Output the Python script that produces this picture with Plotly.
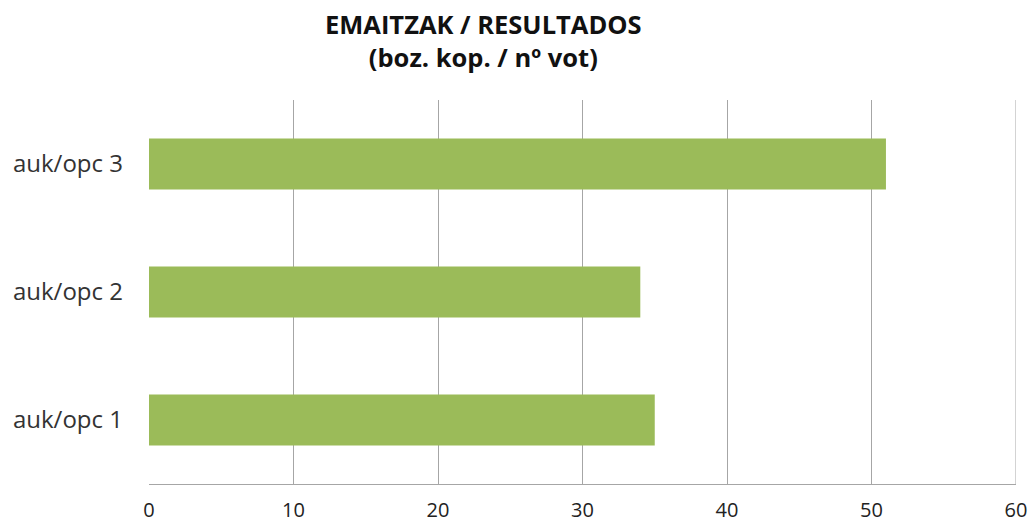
import plotly.graph_objects as go

categories = ["auk/opc 1", "auk/opc 2", "auk/opc 3"]
values = [35, 34, 51]
x_ticks = [0, 10, 20, 30, 40, 50, 60]
title_line1 = "EMAITZAK / RESULTADOS"
title_line2 = "(boz. kop. / nº vot)"

fig = go.Figure()
fig.add_trace(go.Bar(
    x=values, y=categories, orientation="h",
    marker=dict(color="#9bbb59", line=dict(width=0)),
    hoverinfo="x+y",
))

font_family = "'Open Sans', sans-serif"
fig.update_layout(
    width=1033, height=524,
    margin=dict(l=149, r=17, t=100, b=40, autoexpand=False),
    paper_bgcolor="white", plot_bgcolor="white",
    bargap=0.6,
    showlegend=False,
    font=dict(family=font_family, color="#222"),
    xaxis=dict(
        range=[0, 60], tickvals=x_ticks, ticktext=[str(v) for v in x_ticks],
        showgrid=True, gridcolor="#a6a6a6", gridwidth=1,
        zeroline=False, showline=True, linecolor="#a6a6a6", linewidth=1,
        mirror=False, ticks="", tickfont=dict(size=20, family=font_family, color="#222"),
        ticklabelstandoff=8, automargin=False,
    ),
    yaxis=dict(
        showgrid=False, zeroline=False, showline=False, ticks="",
        tickfont=dict(size=24, family=font_family, color="#333"),
        ticklabelstandoff=25, automargin=False,
    ),
    annotations=[
        dict(text="<b>" + title_line1 + "</b><br><b>" + title_line2 + "</b>",
             xref="paper", yref="paper",
             x=0.386, y=1, yshift=60, xanchor="center", yanchor="middle",
             align="center", showarrow=False,
             font=dict(size=25.5, family=font_family, color="#111")),
    ],
)
fig.add_shape(type="line", xref="x", yref="paper", x0=60, x1=60, y0=0, y1=1,
              line=dict(color="#a6a6a6", width=1))

fig.write_html("out.html", config={"displayModeBar": False},
               post_script="document.body.style.margin='0';")
